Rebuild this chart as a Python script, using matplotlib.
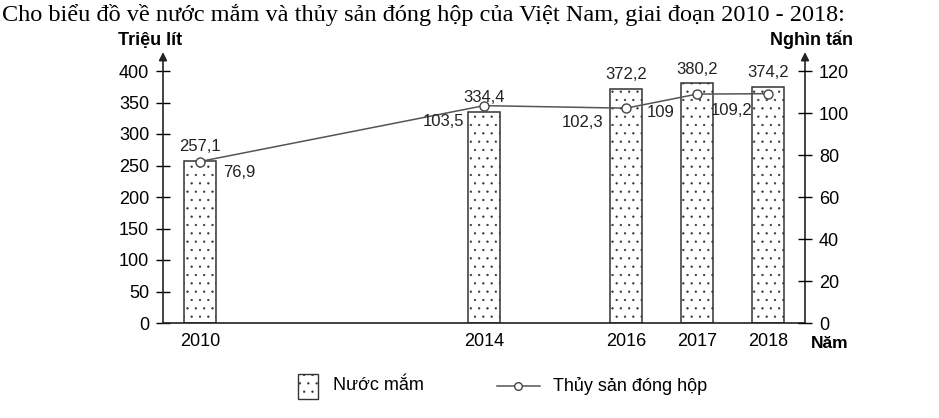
import matplotlib.pyplot as plt
from matplotlib.lines import Line2D
import numpy as np

plt.rcParams['font.family'] = ['Liberation Sans', 'DejaVu Sans']
plt.rcParams['hatch.color'] = '#ababab'
plt.rcParams['hatch.linewidth'] = 0.4

years = [2010, 2014, 2016, 2017, 2018]
nuoc_mam = [257.1, 334.4, 372.2, 380.2, 374.2]      # trieu lit
thuy_san = [76.9, 103.5, 102.3, 109, 109.2]        # nghin tan


def fmt(v):
    s = ('%g' % v)
    return s.replace('.', ',')


W, H = 939, 418
fig = plt.figure(figsize=(W / 100, H / 100), dpi=100)
ax = fig.add_axes([163 / W, 1 - 323 / H, 642 / W, 252 / H])
ax2 = ax.twinx()

ax.bar(years, nuoc_mam, width=0.46, color='white', edgecolor='#333333',
       linewidth=1.1, hatch='..', zorder=2)
ax2.plot(years, thuy_san, color='#555555', lw=1.1, marker='o', ms=6.5,
         mfc='white', mec='#444444', mew=1.0, zorder=3)

ax.set_xlim(2009.48, 2018.52)
ax.set_ylim(0, 400)
ax2.set_ylim(0, 120)

ax.set_xticks(years)
ax.set_xticklabels([str(y) for y in years], fontsize=13)
ax.tick_params(axis='x', length=0, pad=7)
ax.set_yticks(np.arange(0, 401, 50))
ax.tick_params(axis='y', direction='inout', length=10, width=1, labelsize=13, pad=5)
ax2.set_yticks(np.arange(0, 121, 20))
ax2.tick_params(axis='y', direction='inout', length=10, width=1, labelsize=13, pad=5)

for a in (ax, ax2):
    a.spines['top'].set_visible(False)
    a.spines['left'].set_visible(False)
    a.spines['right'].set_visible(False)
ax.spines['bottom'].set_color('#222222')
ax.spines['bottom'].set_linewidth(1.2)
ax2.spines['bottom'].set_visible(False)

# truc doc co mui ten
for xa in (0, 1):
    ax.annotate('', xy=(xa, 1.075), xytext=(xa, 0), xycoords='axes fraction',
                arrowprops=dict(arrowstyle='-|>', color='#222222', lw=1.2,
                                mutation_scale=12, shrinkA=0, shrinkB=0),
                annotation_clip=False)

# nhan cot
for x, v in zip(years, nuoc_mam):
    ax.annotate(fmt(v), xy=(x, v), xytext=(0, 5), textcoords='offset points',
                ha='center', va='bottom', fontsize=12, color='#222222')

# nhan duong
offs = [(17, -8, 'left'), (-14, -11.5, 'right'), (-16, -10, 'right'),
        (-16, -13, 'right'), (-11, -12, 'right')]
for (x, v), (dx, dy, ha) in zip(zip(years, thuy_san), offs):
    ax2.annotate(fmt(v), xy=(x, v), xytext=(dx, dy), textcoords='offset points',
                 ha=ha, va='center', fontsize=12, color='#222222')

fig.text(0.002, 1 - 15 / H, 'Cho biểu đồ về nước mắm và thủy sản đóng hộp của Việt Nam, giai đoạn 2010 - 2018:',
         family='Liberation Serif', fontsize=17.5, va='center', ha='left')
fig.text(150 / W, 1 - 40 / H, 'Triệu lít', fontsize=13, fontweight='bold',
         ha='center', va='center')
fig.text(812 / W, 1 - 40 / H, 'Nghìn tấn', fontsize=13, fontweight='bold',
         ha='center', va='center')
fig.text(830 / W, 1 - 343 / H, 'Năm', fontsize=12.5, fontweight='bold',
         ha='center', va='center')

# chu giai
fig.patches.append(plt.Rectangle((298 / W, 1 - 399 / H), 20 / W, 25 / H,
                                 transform=fig.transFigure, facecolor='white',
                                 edgecolor='#333333', lw=1.0, hatch='..'))
fig.text(333 / W, 1 - 386 / H, 'Nước mắm', fontsize=13, va='center', ha='left')
fig.lines.append(Line2D([497 / W, 540 / W], [1 - 386 / H, 1 - 386 / H],
                        transform=fig.transFigure, color='#555555', lw=1.1))
fig.lines.append(Line2D([518 / W], [1 - 386 / H], transform=fig.transFigure,
                        marker='o', ms=5.5, mfc='white', mec='#444444', lw=0))
fig.text(553 / W, 1 - 386 / H, 'Thủy sản đóng hộp', fontsize=13, va='center', ha='left')

fig.savefig('out.png', dpi=100)
